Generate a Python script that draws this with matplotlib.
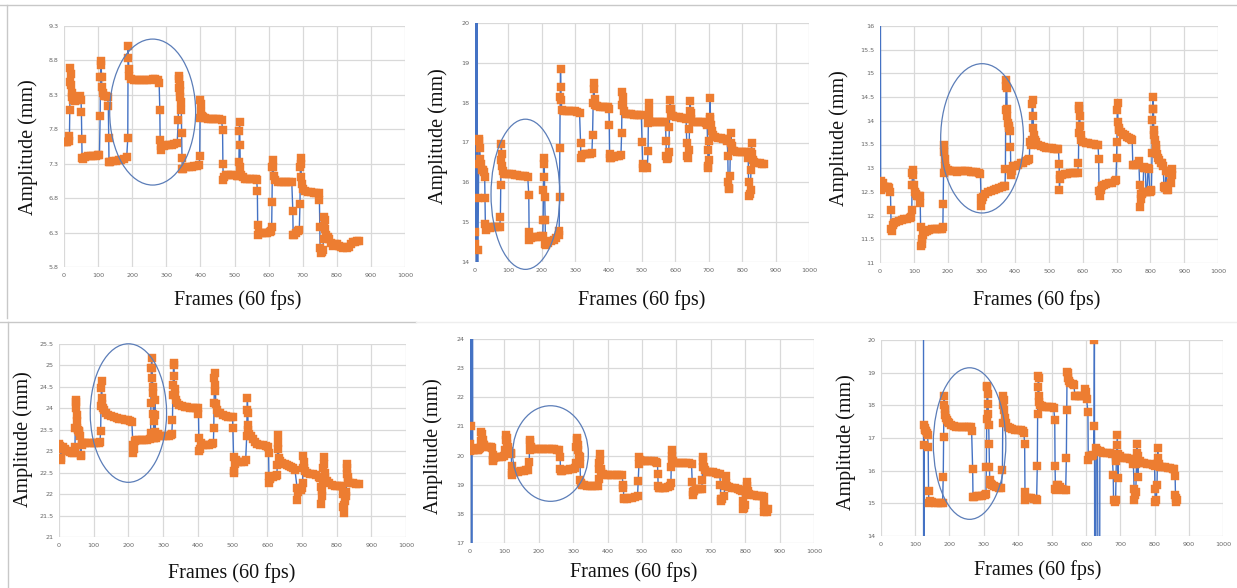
import matplotlib
matplotlib.use("Agg")
import matplotlib.pyplot as plt
from matplotlib.patches import Ellipse
from matplotlib.lines import Line2D
from matplotlib.ticker import FormatStrFormatter

W, H = 1237, 588

# ---------------- data: (frame, amplitude in mm) ----------------
p1_points = [
    (0, 7.62), (5, 7.62), (10, 7.62), (14, 7.63),
    (16, 7.70), (17, 8.08), (18, 8.49), (19, 8.69), (20, 8.60), (21, 8.45), (22, 8.33), (24, 8.27), (27, 8.22),
    (31, 8.21), (35, 8.22), (39, 8.24), (43, 8.27), (47, 8.28), (50, 8.22),
    (51, 8.05), (52, 7.66), (53, 7.39), (56, 7.37), (62, 7.40), (70, 7.41), (78, 7.41), (86, 7.41), (94, 7.41),
    (100, 7.42), (104, 7.43),
    (106, 7.99), (107, 8.56), (108, 8.79), (109, 8.74), (110, 8.56), (111, 8.42), (113, 8.33), (117, 8.29),
    (122, 8.28), (128, 8.27),
    (130, 8.14), (131, 7.68), (132, 7.33), (136, 7.33), (144, 7.34), (152, 7.34), (160, 7.35), (168, 7.36),
    (176, 7.37), (184, 7.40),
    (187, 7.67), (188, 9.01), (189, 8.84), (190, 8.68), (192, 8.57), (196, 8.53), (204, 8.51), (212, 8.51),
    (220, 8.51), (228, 8.51), (236, 8.51), (244, 8.52), (252, 8.52), (260, 8.53), (268, 8.53), (276, 8.52),
    (279, 8.47),
    (281, 8.08), (282, 7.64), (283, 7.50), (285, 7.55), (292, 7.56), (300, 7.57), (308, 7.57), (316, 7.57),
    (324, 7.58), (332, 7.60),
    (335, 7.94), (336, 8.40), (337, 8.57), (338, 8.53), (339, 8.45), (340, 8.35), (341, 8.27), (342, 8.20),
    (344, 8.08), (345, 7.75), (346, 7.39), (347, 7.23), (350, 7.23), (358, 7.25), (366, 7.25), (374, 7.25),
    (382, 7.26), (390, 7.27), (396, 7.28),
    (398, 7.41), (399, 7.97), (400, 8.22), (401, 8.16), (402, 8.05), (404, 8.00), (408, 7.98), (414, 7.96),
    (422, 7.95), (430, 7.95), (438, 7.95), (446, 7.95), (454, 7.95), (462, 7.94),
    (465, 7.79), (466, 7.29), (467, 7.06), (469, 7.10), (474, 7.13), (482, 7.13), (490, 7.13), (498, 7.13),
    (506, 7.12), (511, 7.12),
    (513, 7.33), (514, 7.78), (515, 7.90), (516, 7.57), (517, 7.25), (519, 7.14), (524, 7.10), (530, 7.08),
    (538, 7.08), (546, 7.08), (554, 7.08), (562, 7.08), (565, 7.07),
    (567, 6.91), (568, 6.41), (569, 6.26), (573, 6.29), (580, 6.30), (588, 6.30), (596, 6.30), (604, 6.31),
    (607, 6.32),
    (609, 6.38), (610, 6.75), (611, 7.25), (612, 7.36), (613, 7.25), (615, 7.12), (620, 7.06), (628, 7.04),
    (636, 7.03), (644, 7.03), (652, 7.03), (660, 7.03), (668, 7.03),
    (671, 6.62), (672, 6.26), (674, 6.27), (680, 6.30), (686, 6.32), (690, 6.34),
    (692, 6.71), (693, 7.25), (694, 7.38), (695, 7.30), (696, 7.10), (698, 7.00), (702, 6.93), (708, 6.90),
    (716, 6.89), (724, 6.89), (732, 6.88), (740, 6.88), (747, 6.88),
    (749, 6.78), (750, 6.38), (751, 6.07), (753, 6.00), (756, 6.02), (759, 6.05),
    (761, 6.20), (762, 6.40), (763, 6.52), (764, 6.48), (766, 6.35), (769, 6.26), (773, 6.24), (778, 6.20),
    (783, 6.15), (788, 6.10), (794, 6.14), (800, 6.13), (806, 6.10), (812, 6.09), (818, 6.08), (824, 6.09),
    (830, 6.08), (836, 6.09), (842, 6.14), (848, 6.16), (854, 6.17), (860, 6.18), (864, 6.18),
]

p2_points = [
    (0, 14.76), (1, 14.46), (3, 26.0), (4, 2.0), (6, 26.0), (8, 2.0), (9, 14.30), (10, 15.60), (11, 16.47),
    (12, 17.10), (13, 17.05), (14, 16.85), (16, 16.58), (18, 16.45), (20, 16.32), (24, 16.30), (27, 16.25),
    (29, 16.14),
    (30, 15.61), (31, 14.95), (32, 14.80), (36, 14.85), (44, 14.86), (52, 14.87), (60, 14.87), (68, 14.88),
    (74, 14.88),
    (76, 15.14), (77, 15.93), (78, 16.55), (79, 16.95), (80, 16.70), (82, 16.42), (84, 16.28), (88, 16.20),
    (95, 16.20), (103, 16.20), (111, 16.20), (119, 16.19), (127, 16.18), (135, 16.17), (143, 16.16),
    (151, 16.16), (158, 16.14),
    (161, 15.67), (162, 14.75), (163, 14.55), (167, 14.60), (175, 14.62), (183, 14.63), (191, 14.64),
    (199, 14.65), (203, 14.65),
    (204, 15.05), (205, 15.80), (206, 16.45), (207, 16.60), (208, 16.13), (209, 15.63), (210, 15.05),
    (211, 14.45), (214, 14.42), (220, 14.47), (228, 14.52), (236, 14.55), (244, 14.60), (250, 14.68),
    (252, 14.77),
    (253, 15.62), (254, 16.87), (255, 18.15), (256, 18.85), (257, 18.40), (258, 18.07), (260, 17.82),
    (266, 17.80), (274, 17.80), (282, 17.80), (290, 17.79), (298, 17.78), (306, 17.77), (313, 17.75),
    (316, 17.00), (317, 16.62), (320, 16.68), (328, 16.70), (336, 16.71), (344, 16.72), (350, 16.74),
    (352, 17.20), (354, 18.00), (355, 18.50), (356, 18.35), (358, 18.10), (360, 17.95), (366, 17.92),
    (374, 17.90), (382, 17.90), (390, 17.88), (398, 17.88), (401, 17.85),
    (402, 17.45), (403, 16.72), (404, 16.60), (408, 16.62), (416, 16.64), (424, 16.65), (432, 16.66),
    (437, 16.68),
    (439, 17.24), (440, 17.95), (441, 18.28), (442, 18.15), (444, 17.95), (447, 17.80), (452, 17.72),
    (460, 17.72), (468, 17.71), (476, 17.70), (484, 17.70), (492, 17.70), (498, 17.68),
    (500, 17.02), (502, 16.45), (503, 16.35), (506, 16.38), (512, 16.38), (516, 16.37),
    (518, 16.78), (519, 17.50), (520, 17.78), (521, 18.00), (522, 17.60), (524, 17.52), (530, 17.52),
    (538, 17.52), (546, 17.52), (554, 17.52), (562, 17.52), (570, 17.52),
    (572, 17.04), (573, 16.65), (574, 16.58), (578, 16.62), (580, 16.75), (582, 17.40), (583, 17.85),
    (584, 18.07), (586, 17.85), (588, 17.70), (594, 17.66), (602, 17.64), (610, 17.63), (618, 17.62),
    (626, 17.61), (632, 17.60),
    (634, 17.00), (635, 16.65), (638, 16.62), (641, 16.80), (642, 17.35), (643, 17.80), (644, 18.05),
    (646, 17.75), (648, 17.60), (652, 17.52), (660, 17.52), (668, 17.52), (676, 17.52), (684, 17.52),
    (692, 17.50), (695, 17.45),
    (697, 16.80), (698, 16.40), (699, 16.35), (701, 16.55), (702, 17.05), (703, 17.65), (704, 18.12),
    (705, 17.60), (707, 17.45), (710, 17.30), (714, 17.20), (720, 17.14), (728, 17.12), (736, 17.12),
    (744, 17.10), (752, 17.10), (755, 17.05),
    (757, 16.65), (758, 16.00), (759, 15.83), (761, 15.85), (763, 16.15), (765, 17.00), (766, 17.25),
    (768, 16.90), (770, 16.80), (776, 16.78), (784, 16.77), (792, 16.76), (800, 16.76), (808, 16.76),
    (816, 16.75),
    (818, 16.62), (819, 16.00), (820, 15.65), (823, 15.70), (825, 15.80), (826, 16.30), (827, 16.75),
    (828, 17.00), (829, 16.70), (831, 16.55), (836, 16.50), (844, 16.49), (852, 16.48), (860, 16.47),
    (865, 16.47),
]

p3_points = [
    (1, 17.5), (2, 12.72), (3, 12.55), (5, 12.62), (8, 12.68), (12, 12.60), (16, 12.60), (20, 12.60),
    (24, 12.60), (28, 12.58), (31, 12.50),
    (32, 12.12), (33, 11.72), (35, 11.68), (38, 11.80), (42, 11.85), (48, 11.87), (56, 11.88), (64, 11.90),
    (72, 11.92), (80, 11.93), (88, 11.94), (92, 11.96),
    (94, 12.12), (95, 12.65), (96, 12.90), (97, 12.97), (99, 12.85), (101, 12.65), (103, 12.50), (106, 12.45),
    (110, 12.42), (116, 12.42), (118, 12.42),
    (119, 12.27), (120, 11.75), (121, 11.35), (123, 11.40), (125, 11.50), (128, 11.60), (132, 11.65),
    (138, 11.68), (146, 11.70), (154, 11.71), (162, 11.71), (170, 11.71), (178, 11.71), (184, 11.72),
    (186, 11.76),
    (187, 12.25), (188, 12.90), (189, 13.49), (190, 13.35), (191, 13.20), (193, 13.05), (196, 13.00),
    (200, 12.97), (206, 12.95), (212, 12.95), (220, 12.94), (228, 12.93), (236, 12.94), (244, 12.94),
    (252, 12.94), (260, 12.94), (268, 12.93), (276, 12.92), (284, 12.92), (292, 12.90), (297, 12.88),
    (299, 12.37), (300, 12.21), (302, 12.32), (306, 12.40), (312, 12.45), (320, 12.50), (328, 12.52),
    (336, 12.55), (344, 12.57), (352, 12.58), (360, 12.60), (366, 12.62), (370, 12.63),
    (371, 12.98), (372, 14.23), (373, 14.74), (374, 14.86), (375, 14.70), (376, 14.25), (377, 14.10),
    (379, 13.95), (381, 13.90), (383, 13.85), (385, 13.78), (386, 13.44), (387, 12.95), (388, 12.86),
    (390, 12.95), (394, 13.05), (400, 13.05), (408, 13.07), (416, 13.10), (424, 13.12), (432, 13.15),
    (438, 13.18), (442, 13.20),
    (443, 13.56), (446, 13.50), (449, 13.60), (450, 14.35), (452, 14.43), (453, 14.10), (454, 13.85),
    (456, 13.70), (458, 13.60), (462, 13.55), (468, 13.50), (476, 13.47), (484, 13.45), (492, 13.43),
    (500, 13.42), (508, 13.42), (516, 13.41), (524, 13.41), (528, 13.40),
    (530, 13.09), (531, 12.53), (532, 12.78), (534, 12.85), (538, 12.85), (546, 12.87), (554, 12.88),
    (562, 12.89), (570, 12.90), (578, 12.90), (585, 12.90),
    (587, 13.11), (588, 13.75), (589, 14.24), (590, 14.31), (591, 14.10), (592, 13.88), (594, 13.70),
    (596, 13.60), (600, 13.56), (608, 13.54), (616, 13.53), (624, 13.52), (632, 13.51), (640, 13.50),
    (645, 13.50),
    (647, 13.20), (648, 12.51), (650, 12.42), (653, 12.55), (656, 12.62), (662, 12.65), (670, 12.67),
    (678, 12.68), (686, 12.69), (694, 12.72), (698, 12.75),
    (700, 13.21), (701, 13.55), (702, 14.23), (703, 14.37), (704, 13.98), (706, 13.85), (708, 13.80),
    (712, 13.77), (718, 13.72), (724, 13.70), (730, 13.66), (736, 13.64), (742, 13.62), (746, 13.60),
    (748, 13.07), (750, 13.07), (756, 13.07), (762, 13.08), (766, 13.15),
    (768, 12.65), (769, 12.19), (771, 12.35), (773, 12.45), (776, 12.45), (778, 12.50),
    (780, 13.00), (782, 13.02), (785, 13.00), (787, 12.50), (790, 12.50), (793, 13.00), (795, 12.98),
    (798, 12.50), (801, 12.52), (803, 12.55),
    (805, 13.32), (806, 14.02), (807, 14.25), (808, 14.50), (809, 14.25), (810, 13.80), (812, 13.70),
    (814, 13.60), (816, 13.50), (818, 13.40), (820, 13.30), (822, 13.22), (826, 13.17), (830, 13.12),
    (834, 13.10), (838, 13.05),
    (840, 12.60), (842, 12.58), (844, 12.62), (846, 12.95), (848, 12.95), (850, 12.53), (852, 12.55),
    (855, 12.90), (858, 12.95), (861, 12.68), (863, 12.98), (865, 12.85),
]

p4_points = [
    (0, 23.17), (2, 23.12), (4, 23.05), (6, 22.85), (7, 22.80), (9, 23.05), (12, 23.10), (16, 23.05),
    (20, 23.00), (26, 23.00), (32, 22.98), (38, 22.97), (44, 22.96), (46, 23.10),
    (47, 23.55), (48, 24.00), (49, 24.15), (50, 24.20), (51, 23.85), (52, 23.70), (53, 23.55), (55, 23.50),
    (57, 23.48), (59, 23.45), (61, 23.35), (62, 22.91), (63, 22.90), (65, 23.15), (67, 23.20), (70, 23.20),
    (76, 23.20), (84, 23.20), (92, 23.20), (100, 23.20), (108, 23.20), (114, 23.20), (118, 23.22),
    (120, 23.47), (121, 24.06), (122, 24.47), (123, 24.63), (124, 24.25), (125, 24.10), (127, 24.00),
    (130, 23.95), (135, 23.90), (142, 23.85), (150, 23.82), (158, 23.80), (166, 23.78), (174, 23.76),
    (182, 23.75), (190, 23.73), (198, 23.72), (206, 23.70), (210, 23.68),
    (213, 23.15), (214, 22.95), (216, 23.05), (218, 23.25), (222, 23.27), (230, 23.27), (238, 23.27),
    (246, 23.27), (254, 23.27), (262, 23.28),
    (264, 23.43), (265, 24.12), (266, 24.94), (267, 25.17), (268, 24.95), (269, 24.70), (270, 24.50),
    (271, 24.35), (272, 23.86), (273, 23.30), (274, 23.30), (275, 23.70), (276, 24.20), (277, 23.85),
    (278, 23.45), (280, 23.30), (283, 23.35), (286, 23.40), (292, 23.35), (300, 23.35), (308, 23.35),
    (316, 23.36), (322, 23.37), (325, 23.40),
    (327, 23.73), (328, 24.30), (329, 24.55), (330, 25.06), (331, 25.02), (332, 24.75), (333, 24.45),
    (334, 24.30), (336, 24.20), (340, 24.12), (346, 24.08), (354, 24.05), (362, 24.03), (370, 24.02),
    (378, 24.01), (386, 24.00), (394, 24.00), (400, 24.00),
    (402, 23.86), (403, 23.30), (404, 23.00), (406, 23.05), (410, 23.20), (416, 23.15), (424, 23.15),
    (432, 23.15), (440, 23.18), (445, 23.20),
    (446, 23.55), (447, 24.12), (448, 24.70), (449, 24.82), (450, 24.55), (451, 24.40), (452, 24.10),
    (454, 23.95), (458, 23.90), (464, 23.88), (472, 23.85), (480, 23.82), (488, 23.80), (496, 23.80),
    (500, 23.80),
    (501, 23.54), (503, 22.87), (504, 22.55), (505, 22.50), (507, 22.70), (510, 22.80), (516, 22.75),
    (524, 22.75), (532, 22.75), (538, 22.80),
    (541, 23.36), (542, 23.96), (543, 24.24), (544, 23.90), (545, 23.60), (546, 23.50), (548, 23.40),
    (552, 23.35), (558, 23.28), (564, 23.22), (572, 23.18), (580, 23.15), (588, 23.15), (596, 23.12),
    (602, 23.10),
    (604, 22.95), (605, 22.42), (606, 22.25), (608, 22.35), (612, 22.40), (618, 22.40), (624, 22.42),
    (628, 22.45),
    (629, 22.68), (630, 23.20), (631, 23.38), (632, 23.05), (634, 22.85), (638, 22.78), (644, 22.72),
    (650, 22.70), (656, 22.68), (662, 22.65), (668, 22.63), (674, 22.60), (680, 22.57),
    (686, 22.15), (687, 21.86), (689, 22.05), (692, 22.10), (696, 22.10), (700, 22.15), (702, 22.25),
    (703, 22.60), (704, 22.90), (705, 22.75), (707, 22.60), (710, 22.55), (716, 22.50), (724, 22.48),
    (732, 22.46), (740, 22.44), (748, 22.40), (752, 22.38),
    (754, 22.17), (755, 21.78), (757, 21.95), (759, 22.10), (761, 22.30), (762, 22.60), (763, 22.87),
    (764, 22.70), (766, 22.50), (768, 22.38), (772, 22.30), (778, 22.25), (786, 22.22), (794, 22.20),
    (802, 22.20), (810, 22.18), (816, 22.18),
    (818, 22.01), (819, 21.70), (820, 21.56), (822, 21.75), (824, 21.85), (826, 21.95), (828, 22.05),
    (829, 22.48), (830, 22.70), (831, 22.60), (832, 22.40), (834, 22.30), (840, 22.27), (848, 22.25),
    (856, 22.24), (864, 22.23),
]

p5_points = [
    (0, 20.38), (1, 20.15), (2, 21.02), (3, 30.0), (5, 5.0), (7, 30.0), (8, 20.20), (11, 20.20),
    (15, 20.25), (19, 20.20), (23, 20.20), (27, 20.22), (30, 20.25),
    (32, 20.50), (33, 20.82), (35, 20.75), (37, 20.55), (39, 20.40), (42, 20.35), (48, 20.30), (54, 20.30),
    (60, 20.30), (64, 20.25),
    (66, 20.03), (67, 19.85), (68, 19.80), (70, 19.92), (76, 19.95), (84, 19.95), (92, 19.95), (100, 19.97),
    (103, 20.20), (104, 20.55), (105, 20.72), (107, 20.60), (109, 20.40), (111, 20.30), (114, 20.15),
    (118, 20.10), (120, 20.05),
    (121, 19.63), (122, 19.40), (123, 19.32), (126, 19.42), (132, 19.45), (140, 19.45), (148, 19.47),
    (156, 19.48), (164, 19.50), (170, 19.52),
    (172, 19.77), (173, 20.20), (174, 20.45), (175, 20.55), (177, 20.30), (181, 20.22), (189, 20.22),
    (197, 20.22), (205, 20.23), (213, 20.23), (221, 20.22), (229, 20.22), (237, 20.22), (245, 20.22),
    (253, 20.20), (260, 20.20),
    (262, 19.94), (263, 19.55), (264, 19.46), (268, 19.48), (276, 19.50), (284, 19.52), (292, 19.53),
    (300, 19.55), (306, 19.58),
    (308, 19.75), (309, 20.30), (310, 20.60), (311, 20.55), (313, 20.35), (315, 20.20), (317, 20.00),
    (319, 19.95),
    (320, 19.70), (321, 19.15), (322, 19.05), (325, 19.00), (332, 19.00), (340, 18.97), (348, 18.95),
    (356, 18.95), (364, 18.95), (372, 18.97),
    (374, 19.20), (375, 19.55), (376, 19.75), (377, 20.05), (378, 19.85), (380, 19.55), (382, 19.42),
    (386, 19.38), (394, 19.35), (402, 19.35), (410, 19.35), (418, 19.35), (426, 19.35), (434, 19.34),
    (442, 19.33),
    (445, 19.00), (446, 18.89), (447, 18.55), (449, 18.50), (455, 18.52), (463, 18.55), (471, 18.56),
    (479, 18.58), (487, 18.60),
    (489, 19.12), (491, 19.70), (492, 19.95), (493, 19.85), (496, 19.82), (502, 19.80), (510, 19.80),
    (518, 19.80), (526, 19.80), (534, 19.80), (542, 19.78), (545, 19.75),
    (546, 19.37), (547, 18.95), (548, 18.90), (552, 18.90), (560, 18.90), (568, 18.90), (576, 18.92),
    (582, 18.95), (584, 19.05),
    (585, 19.60), (586, 20.20), (587, 20.00), (588, 19.85), (590, 19.80), (596, 19.75), (604, 19.75),
    (612, 19.75), (620, 19.75), (628, 19.75), (636, 19.75), (644, 19.72),
    (646, 19.10), (647, 18.75), (648, 18.66), (652, 18.80), (658, 18.85), (664, 18.85), (670, 18.85),
    (674, 18.87),
    (675, 19.17), (676, 19.60), (677, 19.95), (678, 19.80), (680, 19.60), (684, 19.50), (690, 19.45),
    (698, 19.45), (706, 19.42), (714, 19.40), (722, 19.38), (726, 19.36),
    (728, 19.00), (729, 18.50), (731, 18.45), (734, 18.50), (738, 18.60), (741, 18.95), (743, 19.30),
    (745, 19.05), (748, 18.95), (754, 18.92), (762, 18.90), (770, 18.88), (778, 18.85), (786, 18.82),
    (791, 18.80),
    (793, 18.45), (794, 18.15), (796, 18.20), (799, 18.30), (802, 18.70), (805, 19.10), (806, 18.95),
    (808, 18.80), (811, 18.68), (817, 18.65), (825, 18.63), (833, 18.62), (841, 18.62), (849, 18.60),
    (854, 18.58),
    (855, 18.29), (856, 18.05), (858, 18.15), (861, 18.10), (864, 18.05), (866, 18.15),
]

p6_points = [
    (124, 30.0), (125, 0.0), (126, 16.80), (127, 17.40), (128, 17.30), (130, 17.25), (132, 17.20),
    (134, 17.15), (136, 17.10),
    (138, 16.73), (139, 15.38), (140, 15.02), (143, 15.07), (150, 15.05), (158, 15.02), (166, 15.00),
    (174, 15.00), (180, 15.02),
    (182, 15.80), (183, 17.02), (184, 18.01), (185, 18.29), (186, 17.90), (187, 17.70), (189, 17.62),
    (192, 17.55), (196, 17.50), (200, 17.45), (206, 17.40), (212, 17.37), (220, 17.35), (228, 17.34),
    (236, 17.33), (244, 17.33), (252, 17.33), (258, 17.34), (262, 17.35), (265, 17.20),
    (268, 16.05), (269, 15.20), (272, 15.20), (280, 15.22), (288, 15.22), (296, 15.22), (304, 15.24),
    (307, 15.30),
    (308, 16.12), (309, 17.58), (310, 18.57), (311, 18.60), (312, 18.35), (313, 18.05), (314, 17.75),
    (315, 17.40), (316, 16.81), (317, 16.10), (318, 15.60), (320, 15.70), (323, 15.60), (326, 15.55),
    (330, 15.52), (336, 15.50), (344, 15.48), (352, 15.48),
    (355, 16.02), (356, 17.45), (357, 18.00), (358, 18.29), (359, 18.15), (360, 17.85), (362, 17.60),
    (365, 17.45), (370, 17.35), (376, 17.30), (384, 17.27), (392, 17.25), (400, 17.25), (408, 17.23),
    (414, 17.22), (418, 17.15),
    (420, 16.81), (421, 15.34), (422, 15.10), (426, 15.15), (432, 15.15), (440, 15.15), (448, 15.13),
    (452, 15.12), (455, 15.10),
    (457, 16.14), (458, 17.75), (459, 18.55), (460, 18.90), (461, 18.85), (462, 18.30), (463, 18.10),
    (466, 18.02), (470, 17.98), (476, 17.95), (484, 17.95), (492, 17.95), (500, 17.95), (505, 17.92),
    (508, 17.55), (509, 16.14), (510, 15.45), (512, 15.40), (514, 15.55), (518, 15.55), (524, 15.50),
    (530, 15.45), (536, 15.42), (540, 15.40),
    (542, 16.38), (543, 17.86), (544, 19.03), (546, 19.00), (548, 18.85), (550, 18.75), (554, 18.68),
    (560, 18.65), (564, 18.62),
    (567, 18.30), (570, 18.28), (578, 18.28), (586, 18.28), (594, 18.28), (596, 18.50), (598, 18.40),
    (601, 18.20),
    (605, 17.81), (606, 16.33), (608, 16.45), (612, 16.45), (617, 16.45), (621, 16.47),
    (623, 17.37), (624, 20.00), (626, 3.0), (629, 16.70), (633, 16.62), (638, 3.0), (640, 16.60),
    (644, 16.58), (650, 16.55), (660, 16.55), (670, 16.53), (676, 16.50),
    (679, 15.87), (680, 15.10), (683, 15.05), (686, 15.10), (688, 16.30), (690, 16.80), (691, 17.10),
    (692, 16.50), (693, 15.78), (694, 16.45), (698, 16.45), (705, 16.40), (712, 16.38), (720, 16.38),
    (728, 16.37), (735, 16.35), (738, 16.20),
    (740, 15.45), (741, 15.10), (743, 15.25), (745, 15.35), (747, 16.20), (748, 16.81), (749, 16.55),
    (751, 15.80), (752, 16.45), (756, 16.30), (762, 16.25), (770, 16.23), (778, 16.20), (786, 16.20),
    (794, 16.18), (800, 16.15),
    (801, 15.45), (802, 15.05), (805, 15.10), (807, 15.55), (808, 16.20), (809, 16.68), (810, 16.40),
    (812, 16.20), (816, 16.12), (822, 16.10), (830, 16.10), (838, 16.08), (846, 16.07), (854, 16.05),
    (858, 16.05),
    (860, 15.85), (861, 15.25), (862, 15.05), (864, 15.15), (866, 15.10),
]

# y-axis ranges and tick steps (from the reference axes)
y_ranges = [(5.8, 9.3, 0.5), (14, 20, 1), (11, 16, 0.5), (21, 25.5, 0.5), (17, 24, 1), (14, 20, 1)]
y_fmt = ["%.1f", "%g", "%g", "%g", "%g", "%g"]
x_ticks = list(range(0, 1001, 100))

# highlighted regions (ellipse centre frame, centre amplitude, width, height)
ellipses = [(260, 8.05, 252, 2.12), (151, 15.70, 206, 3.77), (302, 13.63, 245, 3.15),
            (200, 23.89, 220, 3.23), (234, 20.07, 220, 3.28), (259, 16.83, 212, 4.64)]

# ---------------- layout (pixel boxes of the plot areas) ----------------
boxes = [(64, 26, 405, 267), (475, 23, 809, 262), (880, 26, 1218, 263),
         (59, 344, 406, 537), (470, 339, 814, 543), (881, 340, 1223, 536)]
ylab_pos = [(28, 147), (438, 136), (839, 138), (23, 439), (433, 446), (846, 442)]
xlab_pos = [(238, 300), (642, 300), (1037, 300), (232, 573), (634, 572), (1038, 570)]

BLUE = "#4472C4"
ORANGE = "#ED7D31"
GRID = "#d9d9d9"
SERIF = ["Liberation Serif", "DejaVu Serif"]

fig = plt.figure(figsize=(W / 100, H / 100), dpi=100)
fig.patch.set_facecolor("white")

all_points = [p1_points, p2_points, p3_points, p4_points, p5_points, p6_points]

for i, pts in enumerate(all_points):
    x0, y0, x1, y1 = boxes[i]
    ax = fig.add_axes([x0 / W, 1 - y1 / H, (x1 - x0) / W, (y1 - y0) / H])
    lo, hi, step = y_ranges[i]
    frames = [p[0] for p in pts]
    amps = [p[1] for p in pts]
    ax.plot(frames, amps, color=BLUE, lw=1.0, marker="s", markersize=5.3,
            markerfacecolor=ORANGE, markeredgecolor=ORANGE, markeredgewidth=0.3, zorder=3)
    ax.set_xlim(0, 1000)
    ax.set_ylim(lo, hi)
    n = int(round((hi - lo) / step))
    ax.set_yticks([lo + k * step for k in range(n + 1)])
    ax.set_xticks(x_ticks)
    ax.yaxis.set_major_formatter(FormatStrFormatter(y_fmt[i]))
    ax.grid(True, color=GRID, lw=0.9, zorder=0)
    ax.set_axisbelow(True)
    for s in ax.spines.values():
        s.set_visible(False)
    ax.tick_params(length=0, labelsize=4.6, labelcolor="#666666", pad=4)
    cx, cy, ew, eh = ellipses[i]
    ax.add_patch(Ellipse((cx, cy), ew, eh, fill=False, edgecolor="#5b7db8",
                         lw=0.9, zorder=4, clip_on=False))
    lx, ly = ylab_pos[i]
    fig.text(lx / W, 1 - ly / H, "Amplitude (mm)", rotation=90, ha="center", va="center",
             fontsize=14.5, family=SERIF, color="#111111")
    fx, fy = xlab_pos[i]
    fig.text(fx / W, 1 - fy / H, "Frames (60 fps)", ha="center", va="center",
             fontsize=14.5, family=SERIF, color="#111111")

# panel frame lines of the composed figure
def hline(y, xa, xb, c="#c8c8c8"):
    fig.add_artist(Line2D([xa / W, xb / W], [1 - y / H, 1 - y / H], color=c, lw=1.0,
                          transform=fig.transFigure))

def vline(x, ya, yb, c="#c8c8c8"):
    fig.add_artist(Line2D([x / W, x / W], [1 - ya / H, 1 - yb / H], color=c, lw=1.0,
                          transform=fig.transFigure))

hline(5, 0, W)
vline(7, 5, 318)
hline(322, 0, 416)
vline(8, 322, H)
hline(322, 416, W, c="#eeeeee")

fig.savefig("out.png", dpi=100, facecolor="white")
